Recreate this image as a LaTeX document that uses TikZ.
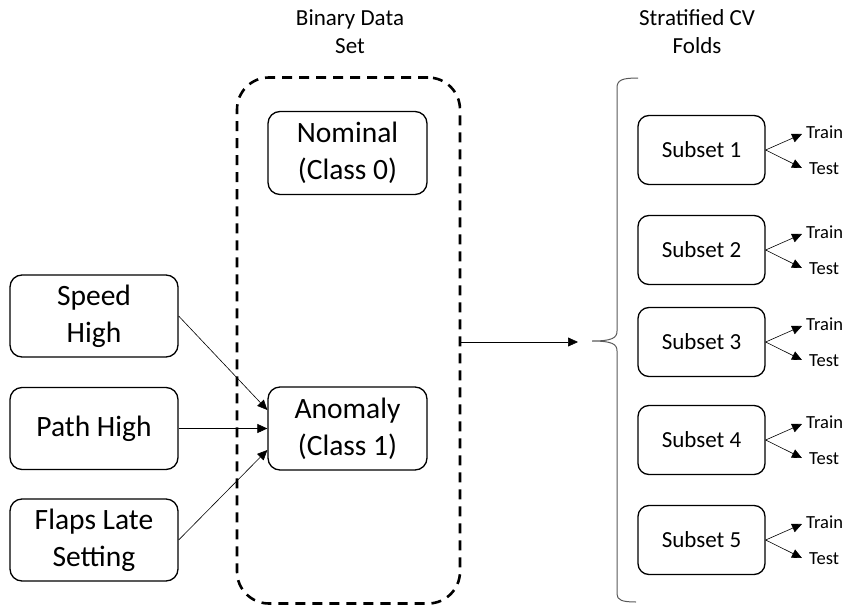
\documentclass[tikz,border=0pt]{standalone}
\usepackage{fontspec}
\setmainfont{Carlito}
\usetikzlibrary{arrows.meta,calc}
\begin{document}
\begin{tikzpicture}[x=1pt,y=-1pt,
  box/.style={draw,line width=1.3pt,rounded corners=12pt,align=center,inner sep=0pt,
    font=\fontsize{29.5}{37}\selectfont},
  inbox/.style={box,minimum width=168pt,minimum height=82pt},
  clsbox/.style={box,minimum width=159pt,minimum height=83pt},
  subbox/.style={draw,line width=1.3pt,rounded corners=11pt,align=center,inner sep=0pt,
    minimum width=127pt,minimum height=69pt,font=\fontsize{23}{28}\selectfont},
  title/.style={align=center,font=\fontsize{23}{28}\selectfont},
  small/.style={anchor=west,inner sep=0pt,font=\fontsize{18.5}{22}\selectfont},
  conn/.style={line width=0.6pt,-{Triangle[length=10pt,width=9pt]}},
  sconn/.style={line width=0.6pt,-{Triangle[length=10pt,width=9pt]}},
  dashbox/.style={draw,line width=2.6pt,dash pattern=on 10pt off 7pt,rounded corners=32pt,
    minimum width=223pt,minimum height=526pt,inner sep=0pt}
]
\useasboundingbox (0,0) rectangle (846,605);

\node[title] (t1) at (350,32) {Binary Data\\Set};
\node[title] (t2) at (697,32) {Stratified CV\\Folds};

\node[dashbox] (data) at (348.5,340.5) {};
\node[clsbox] (nom) at (347.5,153) {Nominal\\(Class 0)};
\node[clsbox] (anom) at (347.5,428.5) {Anomaly\\(Class 1)};

\node[inbox] (speed) at (94,316) {Speed\\High};
\node[inbox] (path) at (94,428.5) {Path High};
\node[inbox] (flaps) at (94,540) {Flaps Late\\Setting};

\draw[conn] (speed.east) -- ($(anom.west)+(0,-18.5)$);
\draw[conn] (path.east) -- (anom.west);
\draw[conn] (flaps.east) -- ($(anom.west)+(0,21.5)$);

\coordinate (tip) at (578,342);
\draw[conn] (data.east |- tip) -- (tip);

% brace
\coordinate (btop) at (638,78);
\coordinate (bmid) at (592,341);
\coordinate (bbot) at (636,602);
\draw[line width=1pt,gray!70!black]
  (btop) .. controls (622,78) and (617,80) .. (617,88) -- (617,331)
  .. controls (617,338) and (612,341) .. (bmid)
  .. controls (612,341) and (617,344) .. (617,351) -- (617,594)
  .. controls (617,600) and (622,602) .. (bbot);

\foreach \i/\cy in {1/150,2/250,3/342,4/440,5/540}{
  \node[subbox] (s\i) at (701.5,\cy) {Subset \i};
  \coordinate (tr\i) at (802,\cy-16);
  \coordinate (te\i) at (802,\cy+18);
  \draw[sconn] (s\i.east) -- (tr\i);
  \draw[sconn] (s\i.east) -- (te\i);
  \node[small] (trl\i) at (806,\cy-18) {Train};
  \node[small] (tel\i) at (809,\cy+19) {Test};
}
\end{tikzpicture}
\end{document}
